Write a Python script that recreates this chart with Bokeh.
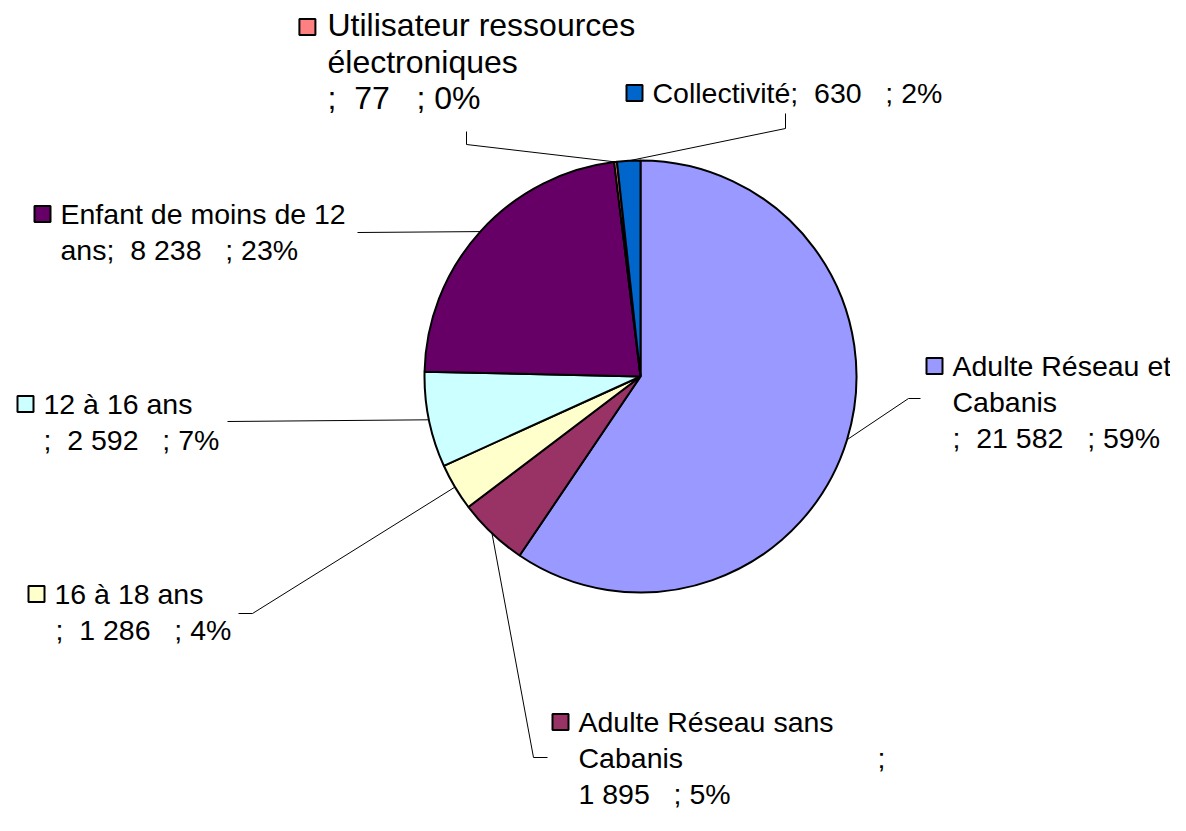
import math
from bokeh.plotting import figure
from bokeh.models import Range1d
from bokeh.core.properties import value
from bokeh.embed import file_html
from bokeh.resources import INLINE

# ---- data ----
categories = ["Adulte Réseau et Cabanis", "Adulte Réseau sans Cabanis", "16 à 18 ans",
              "12 à 16 ans", "Enfant de moins de 12 ans",
              "Utilisateur ressources électroniques", "Collectivité"]
values = [21582, 1895, 1286, 2592, 8238, 77, 630]
colors = ["#9999FF", "#993366", "#FFFFCC", "#CCFFFF", "#660066", "#FF8080", "#0066CC"]

# ---- layout (picture pixel coordinates, origin top-left of the figure) ----
W, H = 1170, 815
cx_img, cy_img, R = 640, 376, 216
FONT = value("Liberation Sans")
LINE_H = 36.3

# label anchor: text left x, first baseline y, font size; break indices; pieces (dx, row)
label_layout = [
    dict(x=952, y=375, fs=28.5, breaks=[16, 24], pieces=[(0, 0), (0, 1), (0, 2)],
         leader=[(920, 398), (908, 398)]),
    dict(x=578, y=731, fs=28.5, breaks=[18, 26, 27], pieces=[(0, 0), (0, 1), (299, 1), (0, 2)],
         leader=[(547, 757), (533, 757)]),
    dict(x=54, y=603, fs=28.5, breaks=[11], pieces=[(0, 0), (1, 1)],
         leader=[(238, 613), (252, 613)]),
    dict(x=43, y=413, fs=28.5, breaks=[11], pieces=[(0, 0), (0, 1)],
         leader=[(227, 421)]),
    dict(x=60, y=223, fs=28.5, breaks=[21], pieces=[(0, 0), (0, 1)],
         leader=[(357, 232)]),
    dict(x=327, y=36, fs=32, breaks=[22, 36], pieces=[(0, 0), (0, 1), (0, 2)],
         leader=[(466, 131), (466, 144)]),
    dict(x=652, y=102, fs=28.5, breaks=[], pieces=[(0, 0)],
         leader=[(785, 113), (785, 128)]),
]


def Y(y_img):
    return H - y_img


total = sum(values)
fracs = [v / total for v in values]
cum = [0.0]
for f in fracs:
    cum.append(cum[-1] + f)

cx, cy = cx_img, Y(cy_img)
theta_start = [math.pi / 2 - 2 * math.pi * c for c in cum[:-1]]
theta_end = [math.pi / 2 - 2 * math.pi * c for c in cum[1:]]
theta_mid = [(a + b) / 2 for a, b in zip(theta_start, theta_end)]

p = figure(width=W, height=H, output_backend="svg", toolbar_location=None,
           x_range=Range1d(0, W), y_range=Range1d(0, H), min_border=0)
p.axis.visible = False
p.grid.visible = False
p.outline_line_color = None
p.background_fill_color = "white"

# pie
p.wedge(x=[cx] * len(values), y=[cy] * len(values), radius=R,
        start_angle=theta_end, end_angle=theta_start, direction="anticlock",
        fill_color=colors, line_color="black", line_width=2)

# leader lines
for i, lay in enumerate(label_layout):
    xs = [pt[0] for pt in lay["leader"]]
    ys = [Y(pt[1]) for pt in lay["leader"]]
    xs.append(cx + R * math.cos(theta_mid[i]))
    ys.append(cy + R * math.sin(theta_mid[i]))
    p.line(xs, ys, line_color="black", line_width=1)

# labels
sqx, sqy, sqc = [], [], []
for i, lay in enumerate(label_layout):
    pct = round(fracs[i] * 100)
    vstr = f"{values[i]:,}".replace(",", "\u00a0")
    full = f"{categories[i]};\u00a0\u00a0{vstr}\u00a0\u00a0\u00a0; {pct}%"
    idx = [0] + lay["breaks"] + [len(full)]
    pieces = [full[a:b].strip(" \u00a0") for a, b in zip(idx[:-1], idx[1:])]
    tx, ty, tt = [], [], []
    fs = lay["fs"]
    for s, (dx, row) in zip(pieces, lay["pieces"]):
        tx.append(lay["x"] + dx)
        ty.append(Y(lay["y"] + row * LINE_H - 0.35 * fs))
        tt.append(s)
    p.text(x=tx, y=ty, text=tt, text_font=FONT, text_font_size=f"{fs}px",
           text_baseline="middle", text_align="left", text_color="black")
    sqx.append(lay["x"] - 18 - (fs - 28.5) * 0.6)
    sqy.append(Y(lay["y"] - 9.5))
    sqc.append(colors[i])

p.rect(x=sqx, y=sqy, width=16, height=16, width_units="screen", height_units="screen",
       fill_color=sqc, line_color="black", line_width=2)

open("out.html", "w").write(file_html(p, INLINE))
